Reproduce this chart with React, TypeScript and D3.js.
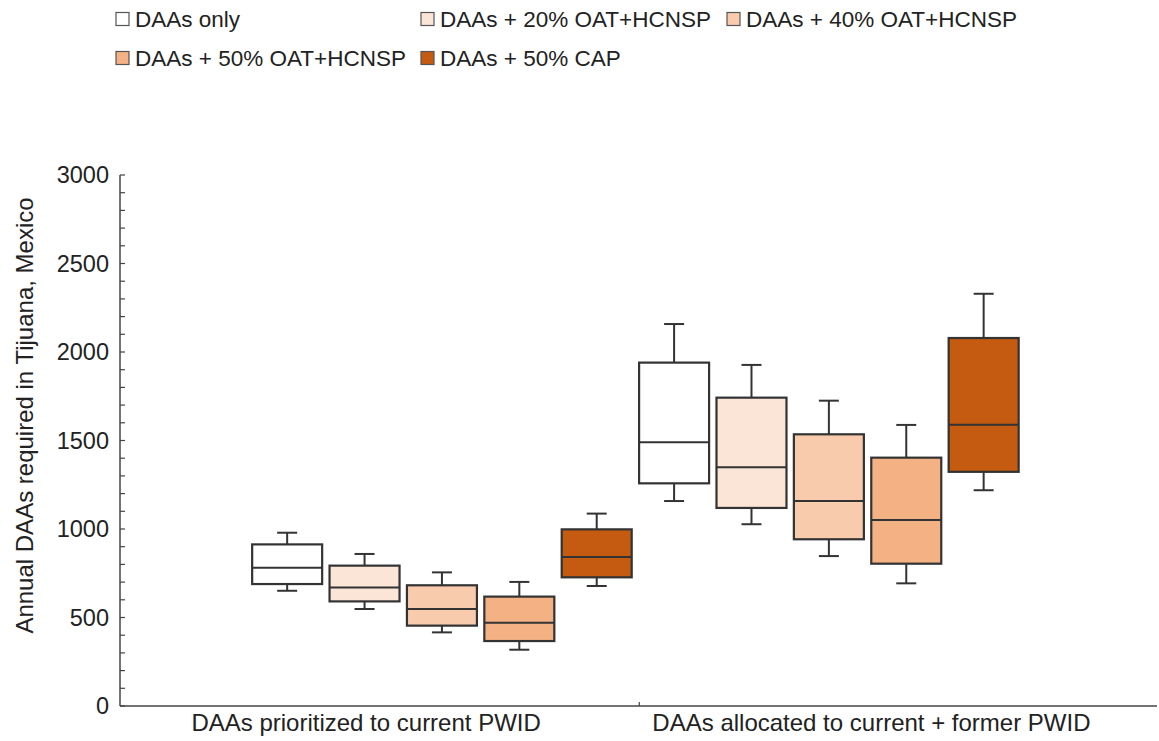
import React from "react";
import * as d3 from "d3";

const groups = ["DAAs prioritized to current PWID", "DAAs allocated to current + former PWID"];
const scenarios = [
  "DAAs only",
  "DAAs + 20% OAT+HCNSP",
  "DAAs + 40% OAT+HCNSP",
  "DAAs + 50% OAT+HCNSP",
  "DAAs + 50% CAP",
];
const fills = ["#FFFFFF", "#FBE5D6", "#F8CBAD", "#F4B183", "#C55A11"];

// per group, per scenario
const whiskerLow = [
  [651, 548, 416, 318, 678],
  [1158, 1027, 847, 693, 1219],
];
const q1 = [
  [689, 591, 454, 367, 727],
  [1258, 1119, 942, 804, 1323],
];
const median = [
  [781, 670, 548, 471, 842],
  [1490, 1349, 1158, 1051, 1589],
];
const q3 = [
  [913, 793, 682, 618, 998],
  [1940, 1742, 1535, 1403, 2079],
];
const whiskerHigh = [
  [979, 859, 755, 701, 1087],
  [2158, 1927, 1725, 1588, 2329],
];

const yTicks = [0, 500, 1000, 1500, 2000, 2500, 3000];
const yMinorTicks = d3.range(0, 3001, 100);

const W = 1159;
const H = 741;
const plotLeft = 120;
const plotRight = 1157;
const plotTop = 175;
const plotBottom = 706;
const boxW = 70;
const capW = 20;
const font = "'Liberation Sans', Arial, sans-serif";

export default function App() {
  const y = d3.scaleLinear().domain([0, 3000]).range([plotBottom, plotTop]);
  // slot positions: 10 boxes in sequence
  const x = d3.scaleLinear().domain([-2.16, 11.24]).range([plotLeft, plotRight]);
  const groupLabelSlots = [1.02, 7.55];
  const stroke = "#333";

  const boxes: any[] = [];
  groups.forEach((g, gi) => {
    scenarios.forEach((s, si) => {
      const slot = gi * scenarios.length + si;
      const cx = x(slot);
      boxes.push(
        <g key={`${gi}-${si}`}>
          <line x1={cx} x2={cx} y1={y(whiskerHigh[gi][si])} y2={y(q3[gi][si])} stroke={stroke} strokeWidth={2} />
          <line x1={cx} x2={cx} y1={y(q1[gi][si])} y2={y(whiskerLow[gi][si])} stroke={stroke} strokeWidth={2} />
          <line x1={cx - capW / 2} x2={cx + capW / 2} y1={y(whiskerHigh[gi][si])} y2={y(whiskerHigh[gi][si])} stroke={stroke} strokeWidth={2} />
          <line x1={cx - capW / 2} x2={cx + capW / 2} y1={y(whiskerLow[gi][si])} y2={y(whiskerLow[gi][si])} stroke={stroke} strokeWidth={2} />
          <rect
            x={cx - boxW / 2}
            y={y(q3[gi][si])}
            width={boxW}
            height={y(q1[gi][si]) - y(q3[gi][si])}
            fill={fills[si]}
            stroke={stroke}
            strokeWidth={2.2}
          />
          <line x1={cx - boxW / 2} x2={cx + boxW / 2} y1={y(median[gi][si])} y2={y(median[gi][si])} stroke={stroke} strokeWidth={2} />
        </g>
      );
    });
  });

  const legendCols = [116, 421, 727];
  const legendRows = [19, 58];
  const legendItems = scenarios.map((s, i) => {
    const col = i < 3 ? i : i - 3;
    const row = i < 3 ? 0 : 1;
    const lx = legendCols[col];
    const ly = legendRows[row];
    return (
      <g key={s}>
        <rect x={lx} y={ly - 6.5} width={13} height={13} fill={fills[i]} stroke="#555" strokeWidth={1.2} />
        <text x={lx + 19} y={ly} dy="0.35em" fontSize={22.5} fill="#222" fontFamily={font}>
          {s}
        </text>
      </g>
    );
  });

  return (
    <svg width={W} height={H} style={{ position: "absolute", left: 0, top: 0, background: "#fff" }}>
      {legendItems}
      {/* y axis */}
      <line x1={plotLeft} x2={plotLeft} y1={plotTop} y2={plotBottom} stroke="#444" strokeWidth={1.5} />
      {yMinorTicks.map((t) => (
        <line key={`m${t}`} x1={plotLeft} x2={plotLeft + 5} y1={y(t)} y2={y(t)} stroke="#444" strokeWidth={1.2} />
      ))}
      {yTicks.map((t) => (
        <text key={`t${t}`} x={plotLeft - 11} y={y(t)} dy="0.35em" textAnchor="end" fontSize={23.5} fill="#222" fontFamily={font}>
          {t}
        </text>
      ))}
      <text
        transform={`translate(25, ${(plotTop + plotBottom) / 2 - 25}) rotate(-90)`}
        textAnchor="middle"
        dy="0.35em"
        fontSize={24}
        fill="#222"
        fontFamily={font}
      >
        Annual DAAs required in Tijuana, Mexico
      </text>
      {/* x axis */}
      <line x1={plotLeft} x2={plotRight} y1={plotBottom} y2={plotBottom} stroke="#444" strokeWidth={1.5} />
      <line x1={x(4.55)} x2={x(4.55)} y1={plotBottom} y2={plotBottom - 4} stroke="#444" strokeWidth={1.2} />
      {groups.map((g, gi) => (
        <text key={g} x={x(groupLabelSlots[gi])} y={plotBottom + 17} dy="0.35em" textAnchor="middle" fontSize={24} fill="#222" fontFamily={font}>
          {g}
        </text>
      ))}
      {boxes}
    </svg>
  );
}
